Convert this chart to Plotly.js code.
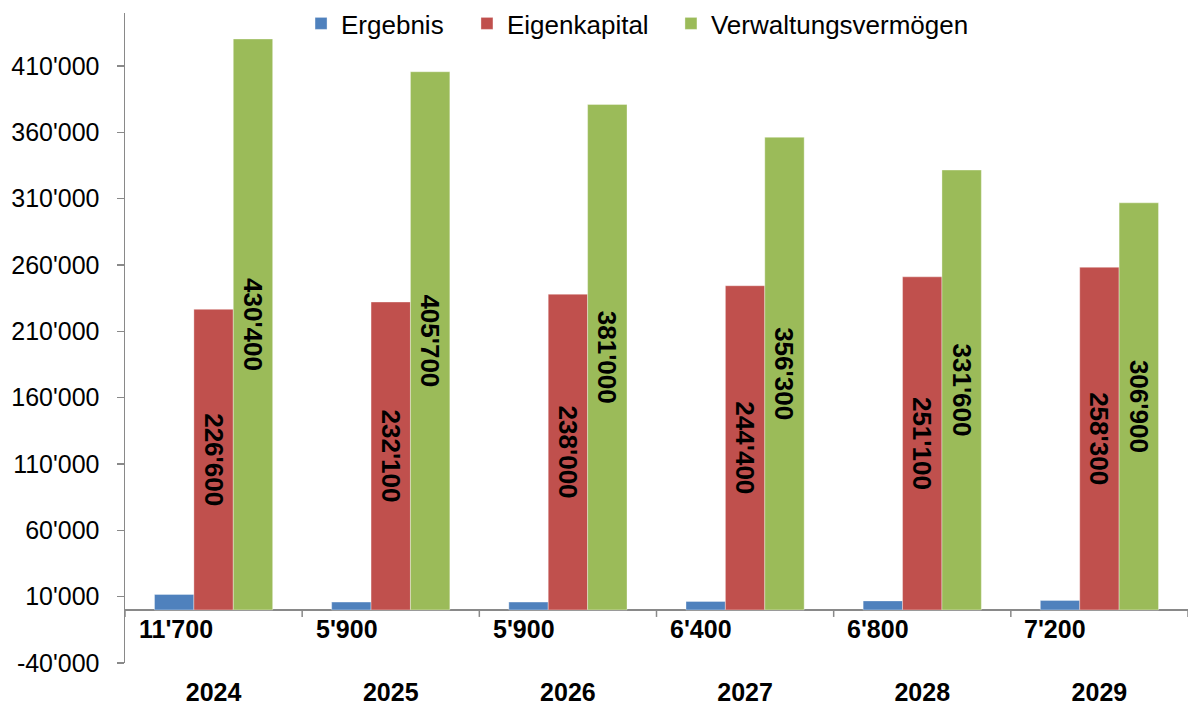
<!DOCTYPE html>
<html>
<head>
<meta charset="utf-8">
<script src="https://cdn.plot.ly/plotly-3.0.1.min.js"></script>
<style>html,body{margin:0;padding:0;background:#fff;}#chart{width:1192px;height:706px;}</style>
</head>
<body>
<div id="chart"></div>
<script>
const categories = ['2024', '2025', '2026', '2027', '2028', '2029'];
const ergebnis = [11700, 5900, 5900, 6400, 6800, 7200];
const eigenkapital = [226600, 232100, 238000, 244400, 251100, 258300];
const verwaltungsvermoegen = [430400, 405700, 381000, 356300, 331600, 306900];
const seriesNames = ['Ergebnis', 'Eigenkapital', 'Verwaltungsvermögen'];
const seriesColors = ['#4F81BD', '#C0504D', '#9BBB59'];
const yTickVals = [-40000, 10000, 60000, 110000, 160000, 210000, 260000, 310000, 360000, 410000];

function fmt(v) {
  const s = Math.abs(v).toString().replace(/\B(?=(\d{3})+(?!\d))/g, "'");
  return (v < 0 ? '-' : '') + s;
}

const FONT = 'Liberation Sans, Arial, sans-serif';
const labelFont = {family: FONT, size: 26, color: '#000', weight: 'bold'};
const annFont = {family: FONT, size: 25, color: '#000', weight: 'bold'};
const legendFont = {family: FONT, size: 26, color: '#000'};

const traces = [
  {
    type: 'bar', name: seriesNames[0], x: categories, y: ergebnis, legend: 'legend',
    marker: {color: seriesColors[0], line: {color: 'rgba(255,255,255,0.35)', width: 1}},
    hoverinfo: 'x+y'
  },
  {
    type: 'bar', name: seriesNames[1], x: categories, y: eigenkapital, legend: 'legend2',
    marker: {color: seriesColors[1], line: {color: 'rgba(255,255,255,0.35)', width: 1}},
    text: eigenkapital.map(fmt), textposition: 'inside', insidetextanchor: 'middle',
    textangle: 90, constraintext: 'none', textfont: labelFont, insidetextfont: labelFont,
    hoverinfo: 'x+y'
  },
  {
    type: 'bar', name: seriesNames[2], x: categories, y: verwaltungsvermoegen, legend: 'legend3',
    marker: {color: seriesColors[2], line: {color: 'rgba(255,255,255,0.35)', width: 1}},
    text: verwaltungsvermoegen.map(fmt), textposition: 'inside', insidetextanchor: 'middle',
    textangle: 90, constraintext: 'none', textfont: labelFont, insidetextfont: labelFont,
    hoverinfo: 'x+y'
  }
];

const shapes = [];
for (let i = 0; i <= categories.length; i++) {
  shapes.push({
    type: 'line', xref: 'x', yref: 'y', x0: i - 0.5, x1: i - 0.5,
    ysizemode: 'pixel', yanchor: 0, y0: 0, y1: -7,
    line: {color: '#898989', width: 1.5}
  });
}

const annotations = ergebnis.map((v, i) => ({
  x: i, y: 0, xref: 'x', yref: 'y',
  xanchor: 'left', yanchor: 'middle', xshift: -77, yshift: -19,
  text: fmt(v), showarrow: false, font: annFont
}));

function legendAt(x) {
  return {orientation: 'h', x: x, xanchor: 'left', y: 1, yanchor: 'top',
          font: legendFont, bgcolor: 'rgba(0,0,0,0)', borderwidth: 0,
          itemwidth: 30, tracegroupgap: 0};
}

const layout = {
  width: 1192, height: 706,
  margin: {l: 125, r: 4, t: 0, b: 43, pad: 0},
  paper_bgcolor: '#fff', plot_bgcolor: '#fff',
  font: {family: FONT, size: 25, color: '#000'},
  barmode: 'group', bargap: 0.333, bargroupgap: 0,
  showlegend: true,
  legend: legendAt(0.1656),
  legend2: legendAt(0.3217),
  legend3: legendAt(0.5136),
  xaxis: {
    type: 'category', range: [-0.5, categories.length - 0.5], autorange: false,
    showline: false, ticks: '', showgrid: false, zeroline: false,
    tickfont: {family: FONT, size: 25, color: '#000', weight: 'bold'},
    ticklabelstandoff: 12, fixedrange: true
  },
  yaxis: {
    domain: [0, 0.9804],
    range: [-40000, 450000], autorange: false, tickvals: yTickVals, ticktext: yTickVals.map(fmt),
    showline: true, linecolor: '#898989', linewidth: 1.5,
    ticks: 'outside', ticklen: 7, tickcolor: '#898989', tickwidth: 1.5,
    showgrid: false, zeroline: true, zerolinecolor: '#898989', zerolinewidth: 1.5,
    tickfont: {family: FONT, size: 25, color: '#000'}, ticklabelstandoff: 12,
    fixedrange: true
  },
  shapes: shapes,
  annotations: annotations
};

Plotly.newPlot('chart', traces, layout, {displayModeBar: false, staticPlot: true});
</script>
</body>
</html>
